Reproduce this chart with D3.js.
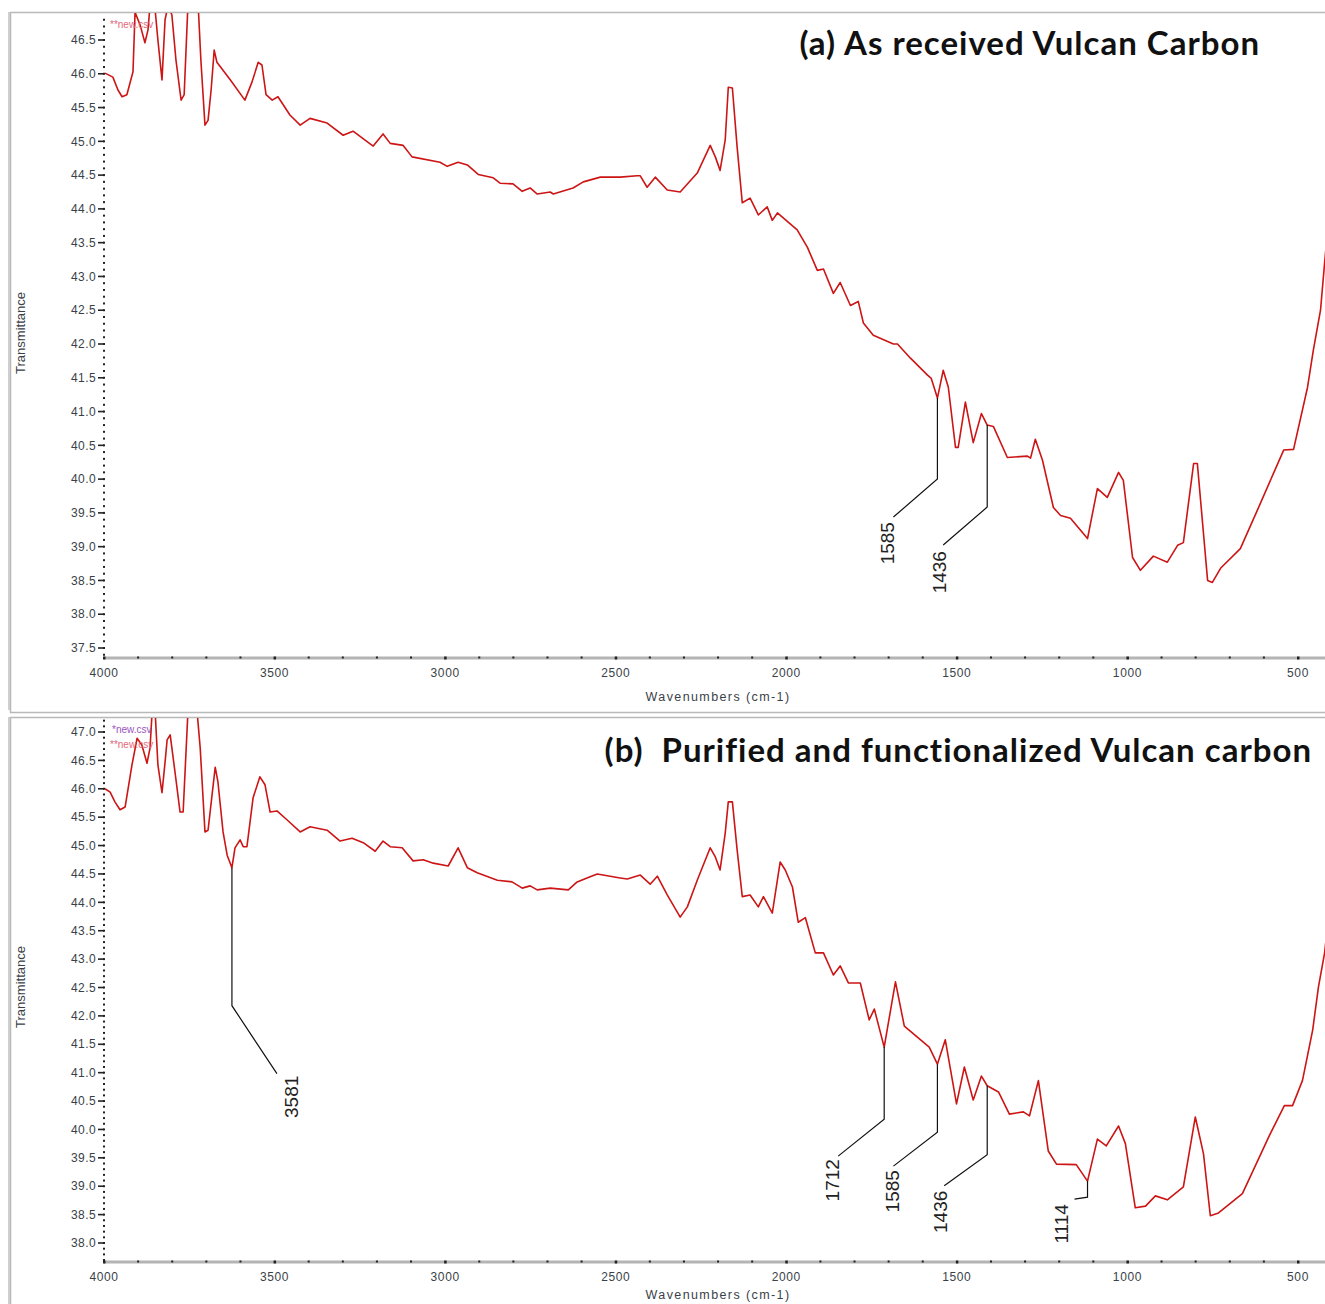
<!DOCTYPE html>
<html>
<head>
<meta charset="utf-8">
<script src="https://cdn.jsdelivr.net/npm/d3@7"></script>
<style>
  body { margin: 0; background: #fff; }
  svg { display: block; }
</style>
</head>
<body>
<div id="chart"></div>
<script>
// ---- data ----
const wavenumbersA = [
  3997,3974,3959,3947,3933,3915,3909,3894,3880,3871,
  3865,3850,3842,3830,3821,3812,3801,3789,3774,3765,
  3754,3724,3716,3704,3695,3686,3677,3669,3630,3587,
  3566,3548,3537,3525,3507,3490,3455,3425,3396,3346,
  3299,3270,3211,3182,3161,3123,3097,3015,2994,2962,
  2935,2903,2859,2839,2801,2774,2751,2730,2692,2683,
  2625,2595,2545,2487,2437,2428,2408,2384,2349,2311,
  2261,2223,2208,2194,2179,2170,2158,2144,2129,2106,
  2082,2056,2041,2026,1968,1938,1909,1891,1862,1842,
  1812,1789,1774,1745,1686,1674,1636,1586,1575,1557,
  1540,1525,1504,1496,1475,1452,1428,1411,1393,1352,
  1293,1284,1270,1249,1217,1196,1167,1117,1088,1059,
  1026,1012,985,962,924,883,853,836,806,795,
  765,751,727,669,619,542,513,472,455,434,
  422,405
]
const transmittanceA = [
  46.01,45.95,45.76,45.66,45.69,46.03,46.91,46.72,46.46,46.65,
  47.02,46.94,46.50,45.91,46.80,47.02,46.87,46.20,45.61,45.69,
  47.02,47.02,46.20,45.24,45.31,45.76,46.35,46.17,45.91,45.61,
  45.88,46.17,46.13,45.69,45.61,45.66,45.39,45.24,45.34,45.27,
  45.09,45.15,44.93,45.11,44.97,44.94,44.77,44.69,44.63,44.69,
  44.65,44.51,44.46,44.38,44.37,44.26,44.31,44.22,44.25,44.22,
  44.31,44.40,44.47,44.47,44.49,44.49,44.32,44.47,44.28,44.25,
  44.53,44.94,44.77,44.57,45.02,45.80,45.79,44.91,44.09,44.16,
  43.91,44.03,43.83,43.94,43.69,43.43,43.09,43.11,42.75,42.91,
  42.57,42.63,42.31,42.13,42.00,42.00,41.79,41.54,41.49,41.20,
  41.61,41.36,40.47,40.47,41.14,40.54,40.97,40.80,40.78,40.32,
  40.34,40.31,40.59,40.28,39.58,39.46,39.42,39.12,39.86,39.73,
  40.10,39.98,38.84,38.65,38.86,38.77,39.02,39.06,40.23,40.23,
  38.50,38.47,38.68,38.97,39.54,40.43,40.44,41.36,41.91,42.50,
  43.20,44.13
]

const wavenumbersB = [
  3997,3982,3968,3953,3938,3918,3903,3889,3874,3865,
  3859,3850,3842,3830,3821,3815,3806,3792,3777,3768,
  3754,3727,3718,3704,3695,3674,3666,3651,3639,3625,
  3616,3601,3592,3581,3563,3543,3528,3513,3493,3463,
  3425,3396,3346,3308,3273,3240,3205,3182,3161,3126,
  3094,3064,3035,2991,2962,2935,2906,2847,2804,2774,
  2751,2730,2692,2639,2613,2575,2554,2487,2466,2428,
  2399,2378,2349,2311,2290,2261,2223,2208,2194,2179,
  2170,2158,2144,2129,2106,2082,2067,2041,2018,2003,
  1982,1965,1944,1915,1891,1862,1842,1818,1783,1757,
  1742,1713,1680,1654,1581,1557,1534,1501,1478,1452,
  1428,1411,1378,1346,1305,1287,1261,1232,1208,1150,
  1117,1088,1062,1026,1006,977,947,918,883,836,
  801,777,757,733,663,584,540,516,487,457,
  440,422,405
]
const transmittanceB = [
  46.00,45.94,45.77,45.63,45.68,46.42,46.89,46.77,46.45,46.72,
  47.35,47.35,46.42,45.93,46.47,46.86,46.95,46.30,45.59,45.59,
  47.35,47.35,46.72,45.24,45.27,46.38,46.12,45.24,44.83,44.61,
  44.96,45.10,44.98,44.98,45.84,46.21,46.07,45.59,45.61,45.45,
  45.24,45.33,45.27,45.08,45.13,45.05,44.90,45.08,44.98,44.96,
  44.73,44.75,44.69,44.64,44.96,44.61,44.52,44.39,44.36,44.25,
  44.29,44.22,44.25,44.22,44.36,44.45,44.50,44.43,44.41,44.48,
  44.32,44.46,44.13,43.74,43.92,44.39,44.96,44.80,44.57,45.22,
  45.77,45.77,44.92,44.10,44.13,43.92,44.10,43.81,44.71,44.57,
  44.27,43.65,43.73,43.11,43.11,42.72,42.88,42.58,42.58,41.93,
  42.12,41.45,42.60,41.82,41.45,41.15,41.58,40.45,41.10,40.52,
  40.94,40.77,40.66,40.27,40.31,40.24,40.86,39.62,39.39,39.38,
  39.09,39.83,39.71,40.06,39.75,38.62,38.65,38.83,38.76,38.99,
  40.22,39.57,38.48,38.53,38.87,39.89,40.42,40.42,40.86,41.75,
  42.51,43.11,44.04
]

// peak labels and where their leaders touch the curve
const peakLabelsA = ["1585", "1436"]
const peakWavenumbersA = [1557, 1411]
const peakLabelsB = ["3581", "1712", "1585", "1436", "1114"]
const peakWavenumbersB = [3625, 1713, 1557, 1411, 1117]

const xTicks = [4000, 3500, 3000, 2500, 2000, 1500, 1000, 500]
const yTicksA = [37.5, 38.0, 38.5, 39.0, 39.5, 40.0, 40.5, 41.0, 41.5, 42.0, 42.5, 43.0, 43.5, 44.0, 44.5, 45.0, 45.5, 46.0, 46.5]
const yTicksB = [38.0, 38.5, 39.0, 39.5, 40.0, 40.5, 41.0, 41.5, 42.0, 42.5, 43.0, 43.5, 44.0, 44.5, 45.0, 45.5, 46.0, 46.5, 47.0]

// ---- layout ----
const width = 1325
const height = 1304
const plotLeft = 104
const plotRight = 1325

// leader shape per label: [drop, dx, dy, textDx, textDy]
const leadersA = [[81, -44, 38, -6, 5], [82, -44, 38, -4, 6]]
const leadersB = [[138, 45, 68, 14, 2], [72, -46, 37, -6, 3], [68, -44, 34, -1, 4], [69, -43, 31, -4, 5], [16, -13, 2, -13, 5]]

const panels = [
  {
    id: "a", frameTop: 12, frameBottom: 712, plotTop: 13, axisY: 658,
    yDomain: [37.5, 46.5], yRange: [648, 40], yTicks: yTicksA,
    wn: wavenumbersA, tr: transmittanceA,
    labels: peakLabelsA, peaks: peakWavenumbersA, leaders: leadersA,
    title: "(a) As received Vulcan Carbon", titleX: 1260, titleY: 55,
    xTitleY: 697, yTitleY: 333,
    legends: [{ text: "**new.csv", color: "#e2687a", x: 110, y: 24 }]
  },
  {
    id: "b", frameTop: 717, frameBottom: 1320, plotTop: 718, axisY: 1262,
    yDomain: [38.0, 47.0], yRange: [1243, 732], yTicks: yTicksB,
    wn: wavenumbersB, tr: transmittanceB,
    labels: peakLabelsB, peaks: peakWavenumbersB, leaders: leadersB,
    title: "(b)\u00a0 Purified and functionalized Vulcan carbon", titleX: 1312, titleY: 762,
    xTitleY: 1295, yTitleY: 987,
    legends: [{ text: "*new.csv", color: "#9a55c0", x: 112, y: 729 },
              { text: "**new.csv", color: "#e2687a", x: 110, y: 744 }]
  }
]

const svg = d3.select("div#chart").append("svg").attr("width", width).attr("height", height)
svg.append("rect").attr("width", width).attr("height", height).attr("fill", "#fff")

const x = d3.scaleLinear().domain([4000, 500]).range([104, 1298])
const fmt = d3.format(".1f")

panels.forEach(p => {
  const y = d3.scaleLinear().domain(p.yDomain).range(p.yRange)
  const g = svg.append("g").attr("id", "panel-" + p.id)

  // window frame
  g.append("rect")
    .attr("x", 10.5).attr("y", p.frameTop + 0.5)
    .attr("width", width + 20).attr("height", p.frameBottom - p.frameTop)
    .attr("fill", "none").attr("stroke", "#b9b9b9").attr("stroke-width", 1.5)
  g.append("line")
    .attr("x1", 9).attr("x2", 9).attr("y1", p.frameTop).attr("y2", p.frameBottom - 2)
    .attr("stroke", "#cfcfcf").attr("stroke-width", 2)

  // x axis: grey rail, dotted minor ticks, labels
  g.append("line")
    .attr("x1", plotLeft).attr("x2", plotRight).attr("y1", p.axisY).attr("y2", p.axisY)
    .attr("stroke", "#b4b4b4").attr("stroke-width", 3)
  const minorX = d3.range(4000, 399, -100)
  g.selectAll(".xdot").data(minorX).enter().append("rect")
    .attr("x", d => x(d) - 1).attr("y", p.axisY - 1.5)
    .attr("width", d => d % 500 === 0 ? 2.5 : 2).attr("height", d => d % 500 === 0 ? 3 : 2)
    .attr("fill", "#222")
  g.selectAll(".xlab").data(xTicks).enter().append("text")
    .attr("x", d => x(d)).attr("y", p.axisY + 19)
    .attr("text-anchor", "middle")
    .style("font-family", "'Liberation Sans', Arial, sans-serif").style("font-size", "12px")
    .style("letter-spacing", "0.6px")
    .attr("fill", "#3a3f48")
    .text(d => d)
  g.append("text")
    .attr("x", 718).attr("y", p.xTitleY).attr("dy", "0.35em")
    .attr("text-anchor", "middle")
    .style("font-family", "'Liberation Sans', Arial, sans-serif").style("font-size", "12.5px")
    .style("letter-spacing", "1.4px")
    .attr("fill", "#3a3f48")
    .text("Wavenumbers (cm-1)")

  // y axis: column of dots plus major ticks
  const yTop = y.invert(p.plotTop)
  const yBottom = y.invert(p.axisY)
  const minorY = d3.range(Math.ceil(yBottom * 10), Math.floor(yTop * 10) + 1).map(v => v / 10)
  g.selectAll(".ydot").data(minorY).enter().append("rect")
    .attr("x", plotLeft - 1).attr("y", d => y(d) - 1)
    .attr("width", 2).attr("height", 2).attr("fill", "#222")
  g.selectAll(".ytick").data(p.yTicks).enter().append("line")
    .attr("x1", plotLeft - 6).attr("x2", plotLeft).attr("y1", d => y(d)).attr("y2", d => y(d))
    .attr("stroke", "#222").attr("stroke-width", 1.6)
  g.selectAll(".ylab").data(p.yTicks).enter().append("text")
    .attr("x", plotLeft - 8).attr("y", d => y(d)).attr("dy", "0.35em")
    .attr("text-anchor", "end")
    .style("font-family", "'Liberation Sans', Arial, sans-serif").style("font-size", "12px")
    .style("letter-spacing", "0.4px")
    .attr("fill", "#3a3f48")
    .text(d => fmt(d))
  g.append("text")
    .attr("transform", `translate(20, ${p.yTitleY}) rotate(-90)`)
    .attr("dy", "0.35em").attr("text-anchor", "middle")
    .style("font-family", "'Liberation Sans', Arial, sans-serif").style("font-size", "13px")
    .attr("fill", "#3a3f48")
    .text("Transmittance")

  // clipped spectrum
  g.append("clipPath").attr("id", "clip-" + p.id).append("rect")
    .attr("x", plotLeft).attr("y", p.plotTop)
    .attr("width", plotRight - plotLeft).attr("height", p.axisY - p.plotTop - 1)
  const pts = p.wn.map((w, i) => [w, p.tr[i]])
  const line = d3.line().x(d => x(d[0])).y(d => y(d[1]))
  g.append("path")
    .attr("clip-path", `url(#clip-${p.id})`)
    .attr("d", line(pts))
    .attr("fill", "none").attr("stroke", "#cc1515").attr("stroke-width", 1.6)
    .attr("stroke-linejoin", "round")

  // legend file names
  p.legends.forEach(l => {
    g.append("text").attr("x", l.x).attr("y", l.y).attr("dy", "0.35em")
      .style("font-family", "'Liberation Sans', Arial, sans-serif").style("font-size", "10px")
      .attr("fill", l.color).text(l.text)
  })

  // peak leaders and labels
  p.labels.forEach((lab, i) => {
    const w = p.peaks[i]
    const idx = p.wn.indexOf(w)
    const x0 = x(w)
    const y0 = y(p.tr[idx])
    const [drop, dx, dy, tdx, tdy] = p.leaders[i]
    const y1 = y0 + drop
    g.append("path")
      .attr("d", `M${x0},${y0}V${y1}L${x0 + dx},${y1 + dy}`)
      .attr("fill", "none").attr("stroke", "#111").attr("stroke-width", 1.2)
    g.append("text")
      .attr("transform", `translate(${x0 + dx + tdx}, ${y1 + dy + tdy}) rotate(-90)`)
      .attr("text-anchor", "end").attr("dy", "0.36em")
      .style("font-family", "'Liberation Sans', Arial, sans-serif").style("font-size", "19px")
      .attr("fill", "#222")
      .text(lab)
  })

  // panel title
  g.append("text")
    .attr("x", p.titleX).attr("y", p.titleY)
    .attr("text-anchor", "end")
    .style("font-family", "Lato, 'Open Sans', sans-serif").style("font-size", "33px")
    .style("font-weight", "bold").style("letter-spacing", "1px")
    .attr("fill", "#111")
    .text(p.title)
})
</script>
</body>
</html>
